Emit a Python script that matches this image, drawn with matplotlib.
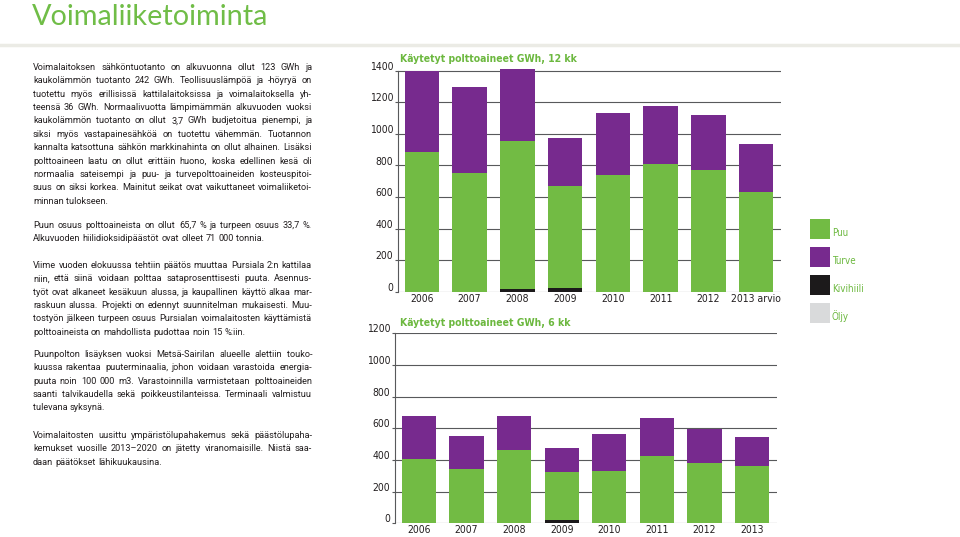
import matplotlib
matplotlib.use("Agg")
import matplotlib.pyplot as plt
import matplotlib.transforms as mtransforms
from matplotlib import font_manager as fm
from matplotlib.lines import Line2D
from matplotlib.patches import Rectangle

W, H = 960, 537

# data (GWh)
years_12 = ["2006", "2007", "2008", "2009", "2010", "2011", "2012", "2013 arvio"]
puu_12 = [887, 754, 939, 644, 737, 811, 769, 633]
turve_12 = [513, 540, 454, 302, 397, 365, 350, 302]
kivihiili_12 = [0, 0, 15, 25, 0, 0, 0, 0]
oljy_12 = [0, 0, 0, 0, 0, 0, 0, 0]

years_6 = ["2006", "2007", "2008", "2009", "2010", "2011", "2012", "2013"]
puu_6 = [406, 341, 463, 301, 331, 422, 383, 362]
turve_6 = [274, 213, 215, 154, 231, 242, 215, 185]
kivihiili_6 = [0, 0, 0, 23, 0, 3, 0, 0]
oljy_6 = [0, 0, 0, 0, 0, 0, 0, 0]

fuels = ["Puu", "Turve", "Kivihiili", "Öljy"]
colors = ["#72bb44", "#772a8e", "#1c1a1b", "#d9dadb"]
green_txt = "#6cb83f"

paragraphs = [
    ["Voimalaitoksen sähköntuotanto on alkuvuonna ollut 123 GWh ja",
     "kaukolämmön tuotanto 242 GWh. Teollisuuslämpöä ja -höyryä on",
     "tuotettu myös erillisissä kattilalaitoksissa ja voimalaitoksella yh-",
     "teensä 36 GWh. Normaalivuotta lämpimämmän alkuvuoden vuoksi",
     "kaukolämmön tuotanto on ollut 3,7 GWh budjetoitua pienempi, ja",
     "siksi myös vastapainesähköä on tuotettu vähemmän. Tuotannon",
     "kannalta katsottuna sähkön markkinahinta on ollut alhainen. Lisäksi",
     "polttoaineen laatu on ollut erittäin huono, koska edellinen kesä oli",
     "normaalia sateisempi ja  puu- ja turvepolttoaineiden kosteuspitoi-",
     "suus on siksi korkea. Mainitut seikat ovat vaikuttaneet voimaliiketoi-",
     "minnan tulokseen."],
    ["Puun osuus polttoaineista on ollut 65,7 % ja turpeen osuus 33,7 %.",
     "Alkuvuoden hiilidioksidipäästöt ovat olleet 71 000 tonnia."],
    ["Viime vuoden elokuussa tehtiin päätös muuttaa Pursiala 2:n kattilaa",
     "niin, että siinä voidaan polttaa sataprosenttisesti puuta. Asennus-",
     "työt ovat alkaneet kesäkuun alussa, ja kaupallinen käyttö alkaa mar-",
     "raskuun alussa. Projekti on edennyt suunnitelman mukaisesti. Muu-",
     "tostyön jälkeen turpeen osuus Pursialan voimalaitosten käyttämistä",
     "polttoaineista on mahdollista pudottaa noin 15 %:iin."],
    ["Puunpolton lisäyksen vuoksi Metsä-Sairilan alueelle alettiin touko-",
     "kuussa rakentaa puuterminaalia, johon voidaan varastoida energia-",
     "puuta noin 100 000 m3. Varastoinnilla varmistetaan polttoaineiden",
     "saanti talvikaudella sekä poikkeustilanteissa. Terminaali valmistuu",
     "tulevana syksynä."],
    ["Voimalaitosten uusittu ympäristölupahakemus sekä päästölupaha-",
     "kemukset vuosille 2013–2020 on jätetty viranomaisille. Niistä saa-",
     "daan päätökset lähikuukausina."],
]
para_top = [66, 224, 264, 353, 434]
line_h = 13.4

body_font = "Roboto"


# look for a narrow sans face for the chart labels (the original uses a condensed one)
def find_narrow(bold):
    for f in fm.fontManager.ttflist:
        fn = f.fname.lower()
        if ("narrow" in fn or "condensed" in fn) and "sans" in fn and "mono" not in fn \
                and "serif" not in fn and "italic" not in fn and "oblique" not in fn:
            if ("bold" in fn) == bold:
                return fm.FontProperties(fname=f.fname)
    return fm.FontProperties(family="Liberation Sans",
                             weight="bold" if bold else "normal")


narrow = find_narrow(False)
narrow_b = find_narrow(True)


def np_(base, size):
    p = base.copy()
    p.set_size(size)
    return p


fig = plt.figure(figsize=(W / 100, H / 100), dpi=100)
fig.patch.set_facecolor("white")
renderer = fig.canvas.get_renderer()


def fx(x):
    return x / W


def fy(y):
    return 1 - y / H


# title and thin rule under it
fig.text(fx(32), fy(25), "Voimaliiketoiminta", fontsize=20.8, color="#70bd47",
         family="Lato", va="baseline")
fig.add_artist(Line2D([0, 1], [fy(45), fy(45)], color="#ebebe5", lw=2.5))

# body text, justified like the original column
left, right = 33, 312
probe = fig.text(0, 0, "", fontsize=10, family=body_font)
widest = 0
for lines in paragraphs:
    for line in lines:
        probe.set_text(" ".join(line.split()))
        widest = max(widest, probe.get_window_extent(renderer).width)
probe.remove()
body_size = 10 * (right - left) / widest * 0.985

for lines, top in zip(paragraphs, para_top):
    for i, line in enumerate(lines):
        y = fy(top + i * line_h + 3.8)
        words = line.split()
        txts = [fig.text(0, y, w, fontsize=body_size, family=body_font,
                         color="#231f20", va="baseline") for w in words]
        widths = [t.get_window_extent(renderer).width for t in txts]
        if i == len(lines) - 1:
            gap = body_size * 100 / 72 * 0.25
        else:
            gap = (right - left - sum(widths)) / (len(words) - 1)
        x = left
        for t, w in zip(txts, widths):
            t.set_x(fx(x))
            x += w + gap


def stacked_chart(rect_px, years, puu, turve, kivi, oljy, ymax, ytop, title, title_y):
    x0, y_top, x1, y_zero = rect_px
    ax = fig.add_axes([fx(x0), fy(y_zero), (x1 - x0) / W, (y_zero - y_top) / H])
    idx = list(range(len(years)))
    # coal sits at the bottom, then wood, then peat, then oil
    bottom = [0] * len(years)
    for vals, c in [(kivi, colors[2]), (puu, colors[0]), (turve, colors[1]), (oljy, colors[3])]:
        ax.bar(idx, vals, width=0.72, bottom=bottom, color=c, zorder=3, linewidth=0)
        bottom = [b + v for b, v in zip(bottom, vals)]
    ax.set_ylim(0, ytop)
    ax.set_xlim(-0.5, len(years) - 0.48)
    ticks = list(range(0, ymax + 1, 200))
    ax.set_yticks(ticks)
    ax.set_xticks(idx)
    ax.set_xticklabels(years)
    for t in ticks:
        ax.axhline(t, color="#58595b", lw=0.8, zorder=1)
    for s in ["top", "right", "bottom"]:
        ax.spines[s].set_visible(False)
    ax.spines["left"].set_bounds(0, ymax)
    ax.spines["left"].set_color("#58595b")
    ax.spines["left"].set_linewidth(0.8)
    ax.tick_params(axis="y", length=2.5, width=0.8, color="#58595b", pad=1)
    ax.tick_params(axis="x", length=0, pad=1.5)
    shift = mtransforms.ScaledTranslation(0, 3.5 / 72, fig.dpi_scale_trans)
    for lab in ax.get_yticklabels():
        lab.set_fontproperties(np_(narrow, 7.5))
        lab.set_color("#231f20")
        lab.set_transform(lab.get_transform() + shift)
    for lab in ax.get_xticklabels():
        lab.set_fontproperties(np_(narrow, 7.5))
        lab.set_color("#231f20")
    ax.patch.set_alpha(0)
    fig.text(fx(400), fy(title_y), title, fontproperties=np_(narrow_b, 7.5),
             color=green_txt, va="baseline")
    return ax


# 12 kk chart: 0 at y=291.7 px, 1400 at y=70.7 px
scale12 = (291.7 - 70.7) / 1400
stacked_chart((398, 291.7 - 1420 * scale12, 781, 291.7), years_12,
              puu_12, turve_12, kivihiili_12, oljy_12, 1400, 1420,
              "Käytetyt polttoaineet GWh, 12 kk", 61.5)

# 6 kk chart: 0 at y=523.3 px, 1200 at y=333.3 px
stacked_chart((395, 333.3, 777, 523.3), years_6,
              puu_6, turve_6, kivihiili_6, oljy_6, 1200, 1200,
              "Käytetyt polttoaineet GWh, 6 kk", 326.5)

# legend on the right
for i, (name, c) in enumerate(zip(fuels, colors)):
    top = 219 + i * 28
    fig.add_artist(Rectangle((fx(810), fy(top + 20)), 20 / W, 20 / H,
                             transform=fig.transFigure, color=c, lw=0))
    fig.text(fx(832), fy(top + 17), name, fontproperties=np_(narrow, 7),
             color=green_txt, va="baseline")

fig.savefig("out.png", dpi=100)
